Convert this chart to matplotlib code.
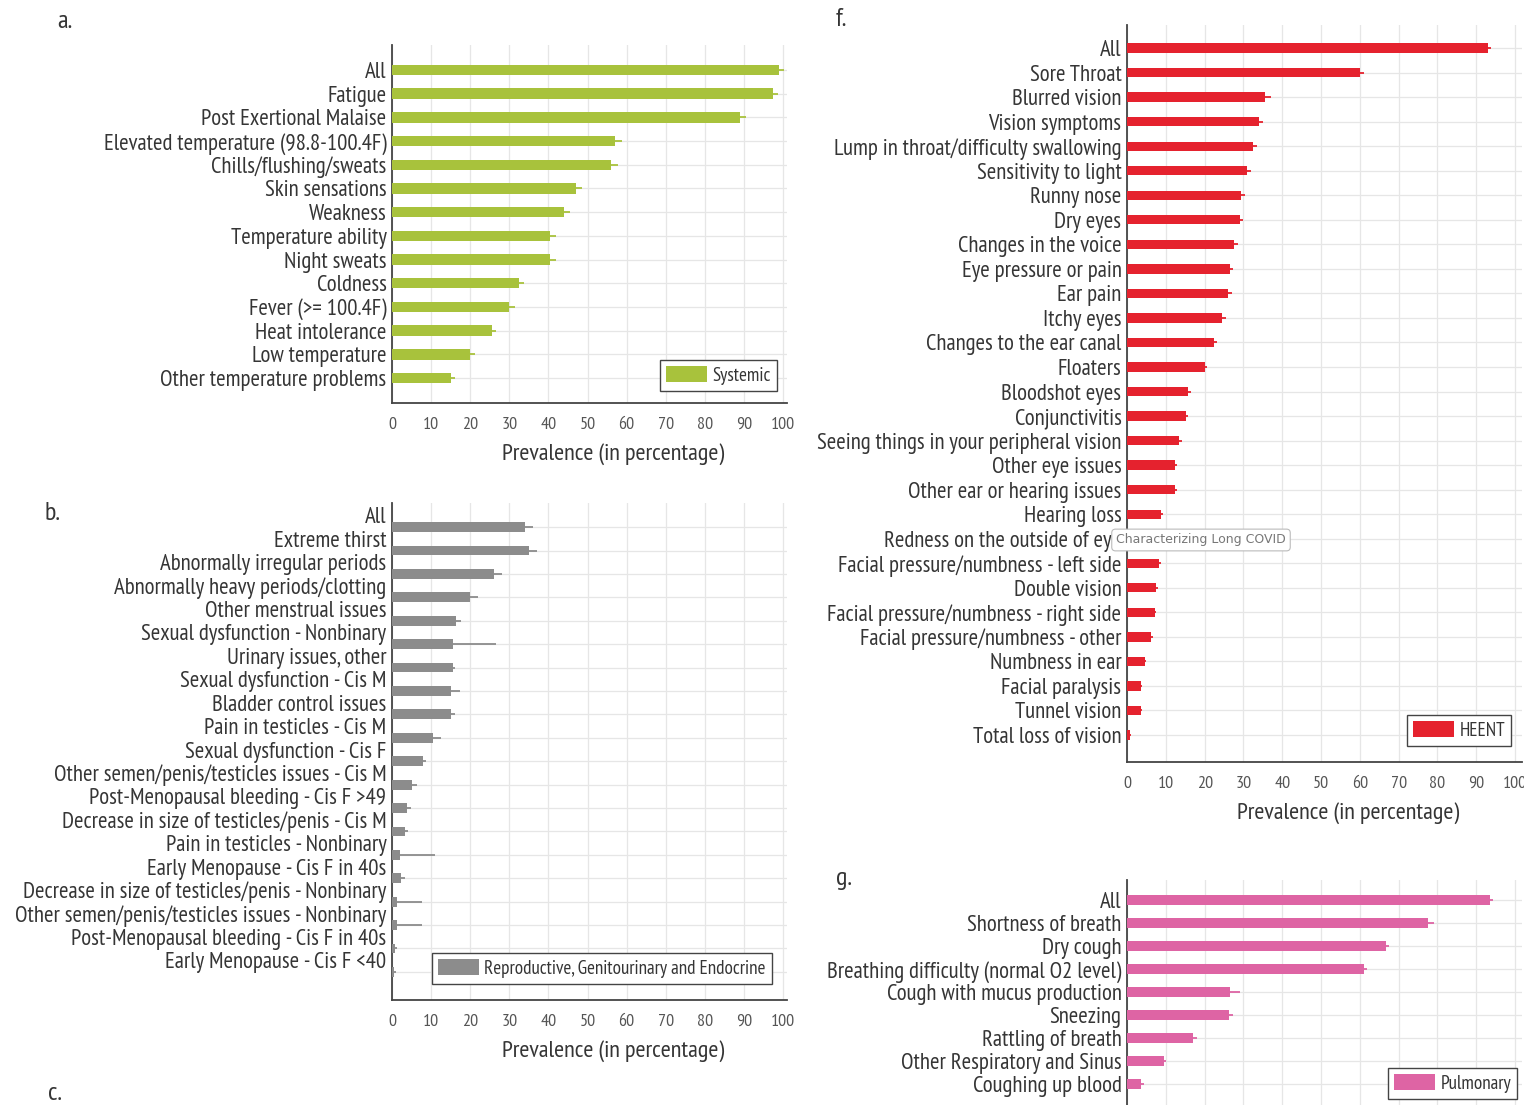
import numpy as np
import matplotlib
matplotlib.use("Agg")
import matplotlib.pyplot as plt
from matplotlib.patches import Patch

plt.rcParams["font.family"] = ["PT Sans Narrow", "DejaVu Sans"]

W, H = 1524, 1105

# a. Systemic
SYS_LABELS = ["All", "Fatigue", "Post Exertional Malaise",
              "Elevated temperature (98.8-100.4F)", "Chills/flushing/sweats",
              "Skin sensations", "Weakness", "Temperature ability", "Night sweats",
              "Coldness", "Fever (>= 100.4F)", "Heat intolerance", "Low temperature",
              "Other temperature problems"]
SYS_VALUES = [99, 97.5, 89, 57, 56, 47, 44, 40.5, 40.5, 32.5, 30, 25.5, 20, 15]
SYS_ERR = [1.2, 1.2, 1.5, 1.8, 1.8, 1.5, 1.5, 1.5, 1.5, 1.2, 1.5, 1.2, 1.3, 1.2]

# b. Reproductive, Genitourinary and Endocrine
REP_LABELS = ["All", "Extreme thirst", "Abnormally irregular periods",
              "Abnormally heavy periods/clotting", "Other menstrual issues",
              "Sexual dysfunction - Nonbinary", "Urinary issues, other",
              "Sexual dysfunction - Cis M", "Bladder control issues",
              "Pain in testicles - Cis M", "Sexual dysfunction - Cis F",
              "Other semen/penis/testicles issues - Cis M",
              "Post-Menopausal bleeding - Cis F >49",
              "Decrease in size of testicles/penis - Cis M",
              "Pain in testicles - Nonbinary", "Early Menopause - Cis F in 40s",
              "Decrease in size of testicles/penis - Nonbinary",
              "Other semen/penis/testicles issues - Nonbinary",
              "Post-Menopausal bleeding - Cis F in 40s",
              "Early Menopause - Cis F <40"]
REP_VALUES = [34, 35, 26, 20, 16.3, 15.5, 15.5, 15, 15, 10.5, 7.8, 5, 3.8, 3.2,
              2, 2.4, 1.2, 1.2, 0.7, 0.6]
REP_ERR = [2, 2, 2, 2, 1.3, 11, 0.5, 2.5, 1, 2, 1, 1.5, 1, 0.8, 9, 0.8, 6.5, 6.5,
           0.5, 0.4]

# f. HEENT
HEENT_LABELS = ["All", "Sore Throat", "Blurred vision", "Vision symptoms",
                "Lump in throat/difficulty swallowing", "Sensitivity to light",
                "Runny nose", "Dry eyes", "Changes in the voice", "Eye pressure or pain",
                "Ear pain", "Itchy eyes", "Changes to the ear canal", "Floaters",
                "Bloodshot eyes", "Conjunctivitis",
                "Seeing things in your peripheral vision", "Other eye issues",
                "Other ear or hearing issues", "Hearing loss",
                "Redness on the outside of eye",
                "Facial pressure/numbness - left side", "Double vision",
                "Facial pressure/numbness - right side",
                "Facial pressure/numbness - other", "Numbness in ear",
                "Facial paralysis", "Tunnel vision", "Total loss of vision"]
HEENT_VALUES = [93, 60, 35.5, 34, 32.5, 31, 29.5, 29, 27.5, 26.5, 26, 24.5, 22.3,
                20, 15.8, 15.2, 13.5, 12.3, 12.3, 8.8, 9, 8.2, 7.6, 7.1, 6.2, 4.6,
                3.6, 3.6, 0.8]
HEENT_ERR = [0.8, 1.2, 1.5, 1, 1, 1, 0.8, 1, 1, 0.8, 1, 1, 0.8, 0.6, 0.6, 0.6,
             0.6, 0.5, 0.5, 0.5, 0.5, 0.5, 0.4, 0.4, 0.4, 0.3, 0.3, 0.3, 0.3]

# g. Pulmonary
PUL_LABELS = ["All", "Shortness of breath", "Dry cough",
              "Breathing difficulty (normal O2 level)", "Cough with mucus production",
              "Sneezing", "Rattling of breath", "Other Respiratory and Sinus",
              "Coughing up blood"]
PUL_VALUES = [93.5, 77.5, 66.8, 61, 26.5, 26.3, 17, 9.5, 3.5]
PUL_ERR = [0.8, 1.5, 0.8, 0.8, 2.5, 1, 1, 0.5, 1]

TEXT = "#353535"
GRID = "#e6e6e6"
LABEL_SIZE = 16.4


def px_rect(left, top, right, bottom):
    return [left / W, 1 - bottom / H, (right - left) / W, (bottom - top) / H]


def draw_panel(fig, rect, labels, values, errs, color, name, legend_xy, ylim,
               xmax=101, label_shift=0.0, bar_h=0.4, show_x=True):
    ax = fig.add_axes(rect)
    pos = np.arange(len(labels))
    ax.barh(pos, values, height=bar_h, color=color, zorder=3)
    ax.errorbar(values, pos, xerr=[np.zeros(len(errs)), errs], fmt="none",
                ecolor=color, elinewidth=1.3, capsize=0, zorder=3)
    ax.set_xlim(0, xmax)
    ax.set_ylim(*ylim)
    ax.set_xticks(range(0, 101, 10))
    ax.tick_params(axis="x", length=0, pad=10, labelsize=13, labelcolor="#555555",
                   labelbottom=show_x)
    ax.set_yticks(pos)
    if label_shift:
        # names sit half a row above their bars
        ax.set_yticklabels([])
        ax.set_yticks(pos + label_shift, labels, minor=True)
        ax.tick_params(axis="y", which="minor", length=0, pad=4,
                       labelsize=LABEL_SIZE, labelcolor=TEXT)
    else:
        ax.set_yticklabels(labels)
    ax.tick_params(axis="y", which="major", length=0, pad=4, labelsize=LABEL_SIZE,
                   labelcolor=TEXT)
    ax.grid(True, color=GRID, linewidth=0.9, zorder=0)
    for s in ("top", "right"):
        ax.spines[s].set_visible(False)
    for s in ("left", "bottom"):
        ax.spines[s].set_color("#444444")
        ax.spines[s].set_linewidth(1.3)
    if show_x:
        ax.set_xlabel("Prevalence (in percentage)", fontsize=17.5, color=TEXT)
        ax.xaxis.set_label_coords(0.56, -40 / (rect[3] * H))
    leg = ax.legend(handles=[Patch(facecolor=color, label=name)],
                    loc="upper left",
                    bbox_to_anchor=(legend_xy[0] / W, 1 - legend_xy[1] / H),
                    bbox_transform=fig.transFigure, borderaxespad=0, fancybox=False,
                    edgecolor="#444444", framealpha=1, fontsize=13.8,
                    handlelength=2.1, handleheight=0.9, handletextpad=0.3,
                    borderpad=0.33)
    leg.get_frame().set_linewidth(1.0)
    for t in leg.get_texts():
        t.set_color(TEXT)
    return ax


fig = plt.figure(figsize=(W / 100, H / 100), dpi=100)

draw_panel(fig, px_rect(392, 45, 787, 403), SYS_LABELS, SYS_VALUES, SYS_ERR,
           "#a8c23c", "Systemic", (660, 360), ylim=(14.05, -1.05), bar_h=0.44)

draw_panel(fig, px_rect(392, 503, 787, 1000), REP_LABELS, REP_VALUES, REP_ERR,
           "#8c8c8c", "Reproductive, Genitourinary and Endocrine", (432, 953),
           ylim=(20.2, -1.03), label_shift=-0.5, bar_h=0.42)

draw_panel(fig, px_rect(1127, 25, 1522, 762), HEENT_LABELS, HEENT_VALUES, HEENT_ERR,
           "#e5222e", "HEENT", (1407, 715), ylim=(29.1, -0.94), xmax=101.8,
           bar_h=0.38)

draw_panel(fig, px_rect(1127, 880, 1522, 1110), PUL_LABELS, PUL_VALUES, PUL_ERR,
           "#de64a4", "Pulmonary", (1388, 1068), ylim=(9.13, -0.87), xmax=101.8,
           bar_h=0.44, show_x=False)

# panel letters
for letter, x, y in [("a.", 57, 22), ("b.", 45, 514), ("c.", 48, 1094),
                     ("f.", 836, 20), ("g.", 836, 878)]:
    fig.text(x / W, 1 - y / H, letter, fontsize=19, color=TEXT,
             ha="left", va="center")

# hover tooltip left over the HEENT panel
fig.text(1201 / W, 1 - 540 / H, "Characterizing Long COVID", fontsize=9,
         family="DejaVu Sans", color="#777777", ha="center", va="center", zorder=10,
         bbox=dict(boxstyle="round,pad=0.35,rounding_size=0.3", facecolor="white",
                   edgecolor="#bbbbbb", linewidth=0.8))

fig.savefig("out.png", dpi=100)
